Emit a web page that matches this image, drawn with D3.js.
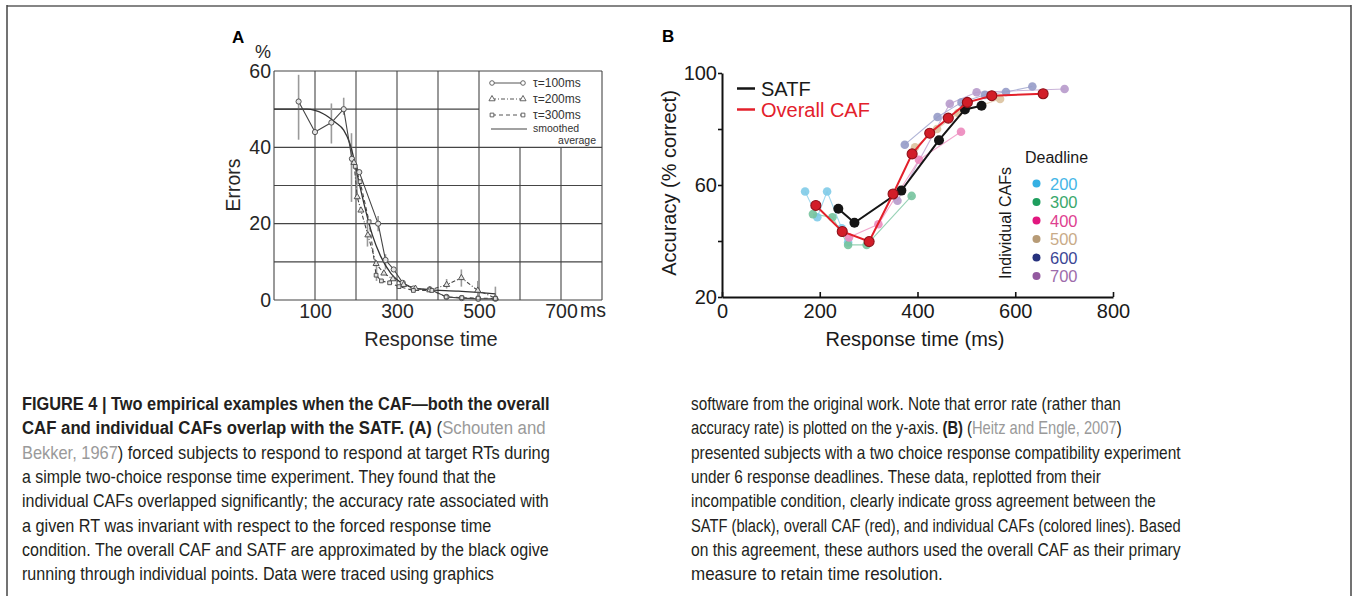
<!DOCTYPE html>
<html><head><meta charset="utf-8">
<script src="https://cdn.jsdelivr.net/npm/d3@7"></script>
<style>
body{margin:0;background:#fff;}
svg{display:block;font-family:"Liberation Sans",Arial,Helvetica,sans-serif;}
</style></head>
<body><svg id="c" width="1356" height="596"></svg>
<script>
// ---------- Panel A data (Schouten & Bekker, 1967) ----------
const t100X = [60,100,140,170,190,208,254,272,292,314,340,380,421,458,498,540];
const t100Y = [52,44,46.5,50,37,33.5,20,10.5,8,4.5,3,2.8,0.8,0.5,0.3,0.3];
const t200X = [195,203,212,229,249,268,290,316,345,380,421,457,497,540];
const t200Y = [36,27,23.5,17,9.5,7,5.5,4,3,2.6,4,5.8,2.5,0.5];
const t300X = [198,210,232,249,262,282,305,340,385,420,458,498,540];
const t300Y = [35,31,20.5,6.5,5,4.5,3.5,2.5,2.5,0.8,0.6,0.5,0.4];
const smoothX = [0,80,120,150,170,185,195,205,220,240,260,285,320,370,450,540];
const smoothY = [50,50,48.8,46.5,44.5,41,37,32,25,17,11.5,7,4,2.7,2.3,1.6];
const errX  = [60,140,170,189,202,228,250,254,272,421,457,497,540];
const errLo = [42,41,48.5,25.7,28,14,5,18,8,3,3.5,0,0];
const errHi = [59,51.5,53,43.7,35.4,21,10,22,12,5.5,8,5,3.5];
const xTicksA = [100,300,500,700];
const yTicksA = [0,20,40,60];
const gridXA = [0,100,200,300,400,500,600,700,800];
const gridYA = [0,10,20,30,40,50,60];
const legendA = ["\u03c4=100ms","\u03c4=200ms","\u03c4=300ms","smoothed","average"];

// ---------- Panel B data (Heitz & Engle, 2007) ----------
const satfX = [238,271,367,444,497,531];
const satfY = [51.5,46.5,58,76,87,88.3];
const cafX = [192,246,301,350,389,425,463,502,552,657];
const cafY = [52.7,43.4,39.8,56.8,71.1,78.5,83.9,89.5,91.9,92.6];
const d200X = [170,195,215,245,258]; const d200Y = [57.7,48.5,57.7,44.5,39.5];
const d300X = [186,226,258,296,388]; const d300Y = [49.6,48.5,38.6,38.6,56.1];
const d400X = [260,320,403,489];     const d400Y = [41.3,46,69,79];
const d500X = [395,440,483,569];     const d500Y = [73.5,80,85.7,90.7];
const d600X = [374,441,490,538,581,635]; const d600Y = [74.4,84.3,89.5,92.2,93.2,95.2];
const d700X = [359,466,521,701];     const d700Y = [54.4,89,93.1,94.3];
const deadlines = ["200","300","400","500","600","700"];
const xTicksB = [0,200,400,600,800];
const yTicksB = [20,40,60,80,100];

// ---------- Caption ----------
const captionLeft = [
 [["FIGURE 4 | Two empirical examples when the CAF\u2014both the overall","b"]],
 [["CAF and individual CAFs overlap with the SATF. (A)","b"],[" (","n"],["Schouten and","g"]],
 [["Bekker, 1967","g"],[") forced subjects to respond to respond at target RTs during","n"]],
 [["a simple two-choice response time experiment. They found that the","n"]],
 [["individual CAFs overlapped significantly; the accuracy rate associated with","n"]],
 [["a given RT was invariant with respect to the forced response time","n"]],
 [["condition. The overall CAF and SATF are approximated by the black ogive","n"]],
 [["running through individual points. Data were traced using graphics","n"]]
];
const captionRight = [
 [["software from the original work. Note that error rate (rather than","n"]],
 [["accuracy rate) is plotted on the y-axis. ","n"],["(B)","b"],[" (","n"],["Heitz and Engle, 2007","g"],[")","n"]],
 [["presented subjects with a two choice response compatibility experiment","n"]],
 [["under 6 response deadlines. These data, replotted from their","n"]],
 [["incompatible condition, clearly indicate gross agreement between the","n"]],
 [["SATF (black), overall CAF (red), and individual CAFs (colored lines). Based","n"]],
 [["on this agreement, these authors used the overall CAF as their primary","n"]],
 [["measure to retain time resolution.","n"]]
];

const svg = d3.select("#c");

// frame
svg.append("line").attr("x1",7).attr("x2",1351).attr("y1",6).attr("y2",6).attr("stroke","#858585").attr("stroke-width",2.2);
svg.append("line").attr("x1",7).attr("x2",7).attr("y1",5).attr("y2",596).attr("stroke","#444").attr("stroke-width",1.5);
svg.append("line").attr("x1",1351).attr("x2",1351).attr("y1",5).attr("y2",596).attr("stroke","#444").attr("stroke-width",1.5);

// ================= Panel A =================
const xA = d3.scaleLinear().domain([0,800]).range([274,602]);
const yA = d3.scaleLinear().domain([0,60]).range([300,71]);
const gA = svg.append("g");
const gridCol = "#454545";
gridXA.forEach(v=>{
  const top = (v===600||v===700) ? 40 : 60;
  gA.append("line").attr("x1",xA(v)).attr("x2",xA(v)).attr("y1",yA(0)).attr("y2",yA(top))
    .attr("stroke",gridCol).attr("stroke-width",1.1);
});
gridYA.forEach(v=>{
  const right = v===50 ? 500 : 800;
  gA.append("line").attr("x1",xA(0)).attr("x2",xA(right)).attr("y1",yA(v)).attr("y2",yA(v))
    .attr("stroke",gridCol).attr("stroke-width",1.1);
});

const yAxA = d3.axisLeft(yA).tickValues(yTicksA).tickSize(0).tickPadding(3);
gA.append("g").attr("transform",`translate(${xA(0)},0)`).call(yAxA)
  .call(g=>g.select(".domain").remove())
  .selectAll("text").attr("font-size",19.5).attr("fill","#262626").attr("font-family","Liberation Sans, Arial");
const xAxA = d3.axisBottom(xA).tickValues(xTicksA).tickSize(0).tickPadding(4);
gA.append("g").attr("transform",`translate(0,${yA(0)})`).call(xAxA)
  .call(g=>g.select(".domain").remove())
  .selectAll("text").attr("font-size",19.5).attr("fill","#262626").attr("font-family","Liberation Sans, Arial");
gA.append("text").attr("x",xA(700)+19).attr("y",317).attr("font-size",19.5).attr("fill","#262626").text("ms");
gA.append("text").attr("x",271).attr("y",58).attr("text-anchor","end").attr("font-size",18).attr("fill","#262626").text("%");
gA.append("text").attr("transform","translate(240,185) rotate(-90)").attr("text-anchor","middle")
  .attr("font-size",19.5).attr("fill","#262626").text("Errors");
gA.append("text").attr("x",431).attr("y",346).attr("text-anchor","middle").attr("font-size",20).attr("fill","#262626").text("Response time");
gA.append("text").attr("x",232).attr("y",43).attr("font-size",17).attr("font-weight","bold").attr("fill","#000").text("A");

// error bars
errX.forEach((x,i)=>{
  gA.append("line").attr("x1",xA(x)).attr("x2",xA(x)).attr("y1",yA(errLo[i])).attr("y2",yA(errHi[i]))
    .attr("stroke","#9a9a9a").attr("stroke-width",1.6);
});
// smoothed
const lineA = (X,Y)=>d3.line().x((d,i)=>xA(X[i])).y((d,i)=>yA(Y[i]))(X);
gA.append("path").attr("d",d3.line().curve(d3.curveMonotoneX).x((d,i)=>xA(smoothX[i])).y((d,i)=>yA(smoothY[i]))(smoothX))
  .attr("fill","none").attr("stroke","#333").attr("stroke-width",1.3);
gA.append("path").attr("d",lineA(t100X,t100Y)).attr("fill","none").attr("stroke","#454545").attr("stroke-width",1.1);
gA.append("path").attr("d",lineA(t200X,t200Y)).attr("fill","none").attr("stroke","#454545").attr("stroke-width",1.1).attr("stroke-dasharray","4,2,1,2");
gA.append("path").attr("d",lineA(t300X,t300Y)).attr("fill","none").attr("stroke","#454545").attr("stroke-width",1.1).attr("stroke-dasharray","4,3");
t100X.forEach((x,i)=>gA.append("circle").attr("cx",xA(x)).attr("cy",yA(t100Y[i])).attr("r",2.6).attr("fill","#e4e4e4").attr("stroke","#444").attr("stroke-width",0.9));
const tri = d3.symbol().type(d3.symbolTriangle).size(16);
const sq = d3.symbol().type(d3.symbolSquare).size(14);
t200X.forEach((x,i)=>gA.append("path").attr("d",tri()).attr("transform",`translate(${xA(x)},${yA(t200Y[i])})`).attr("fill","#e4e4e4").attr("stroke","#444").attr("stroke-width",0.9));
t300X.forEach((x,i)=>gA.append("path").attr("d",sq()).attr("transform",`translate(${xA(x)},${yA(t300Y[i])})`).attr("fill","#e4e4e4").attr("stroke","#444").attr("stroke-width",0.9));

// legend A
const lgA = gA.append("g").attr("font-size",12).attr("fill","#333");
const lyA = [83,99,115,129];
const lx0 = 492, lx1 = 523;
lgA.append("line").attr("x1",lx0).attr("x2",lx1).attr("y1",lyA[0]).attr("y2",lyA[0]).attr("stroke","#555");
[lx0,lx1].forEach(x=>lgA.append("circle").attr("cx",x).attr("cy",lyA[0]).attr("r",2.3).attr("fill","#fff").attr("stroke","#555").attr("stroke-width",0.9));
lgA.append("line").attr("x1",lx0).attr("x2",lx1).attr("y1",lyA[1]).attr("y2",lyA[1]).attr("stroke","#555").attr("stroke-dasharray","4,2,1,2");
[lx0,lx1].forEach(x=>lgA.append("path").attr("d",tri()).attr("transform",`translate(${x},${lyA[1]})`).attr("fill","#fff").attr("stroke","#555").attr("stroke-width",0.9));
lgA.append("line").attr("x1",lx0).attr("x2",lx1).attr("y1",lyA[2]).attr("y2",lyA[2]).attr("stroke","#555").attr("stroke-dasharray","4,3");
[lx0,lx1].forEach(x=>lgA.append("path").attr("d",sq()).attr("transform",`translate(${x},${lyA[2]})`).attr("fill","#fff").attr("stroke","#555").attr("stroke-width",0.9));
lgA.append("line").attr("x1",491).attr("x2",527).attr("y1",lyA[3]).attr("y2",lyA[3]).attr("stroke","#444").attr("stroke-width",1.1);
lgA.append("text").attr("x",533).attr("y",lyA[0]+4).text(legendA[0]);
lgA.append("text").attr("x",533).attr("y",lyA[1]+4).text(legendA[1]);
lgA.append("text").attr("x",533).attr("y",lyA[2]+4).text(legendA[2]);
lgA.append("text").attr("x",533).attr("y",132).attr("font-size",10.5).text(legendA[3]);
lgA.append("text").attr("x",596).attr("y",144).attr("font-size",10.5).attr("text-anchor","end").text(legendA[4]);

// ================= Panel B =================
const xB = d3.scaleLinear().domain([0,800]).range([722,1113]);
const yB = d3.scaleLinear().domain([20,100]).range([297,73]);
const gB = svg.append("g");
const xAxB = d3.axisBottom(xB).tickValues(xTicksB).tickSizeInner(-5).tickSizeOuter(0).tickPadding(7);
gB.append("g").attr("transform",`translate(0,${yB(20)})`).call(xAxB)
  .call(g=>g.select(".domain").attr("stroke","#111").attr("stroke-width",2))
  .call(g=>g.selectAll(".tick line").attr("stroke","#111").attr("stroke-width",1.6))
  .selectAll("text").attr("font-size",20).attr("fill","#1a1a1a").attr("font-family","Liberation Sans, Arial");
const yAxB = d3.axisLeft(yB).tickValues(yTicksB).tickSizeInner(4).tickSizeOuter(0).tickPadding(1)
  .tickFormat(d=> (d===40||d===80) ? "" : d);
gB.append("g").attr("transform",`translate(${xB(0)},0)`).call(yAxB)
  .call(g=>g.select(".domain").attr("stroke","#111").attr("stroke-width",2))
  .call(g=>g.selectAll(".tick line").attr("stroke","#111").attr("stroke-width",1.6))
  .selectAll("text").attr("font-size",20).attr("fill","#1a1a1a").attr("font-family","Liberation Sans, Arial");
gB.append("text").attr("x",915).attr("y",346).attr("text-anchor","middle").attr("font-size",20).attr("fill","#1a1a1a").text("Response time (ms)");
gB.append("text").attr("transform","translate(676,183) rotate(-90)").attr("text-anchor","middle").attr("font-size",20).attr("fill","#1a1a1a").text("Accuracy (% correct)");
gB.append("text").attr("x",662).attr("y",42).attr("font-size",17).attr("font-weight","bold").attr("fill","#000").text("B");

const indiv = [[d200X,d200Y],[d300X,d300Y],[d400X,d400Y],[d500X,d500Y],[d600X,d600Y],[d700X,d700Y]];
const paleCols = ["#80cbe8","#76c39d","#ec88bc","#dcc29f","#969bc8","#b79acb"];
const dotCols  = ["#35b0e3","#1e9e5e","#e2177f","#b79b76","#27327e","#93599f"];
const txtCols  = ["#45b6e7","#3aa86c","#de3f90","#c9ab88","#3b4694","#9d6cab"];
const lineB = (X,Y)=>d3.line().x((d,i)=>xB(X[i])).y((d,i)=>yB(Y[i]))(X);
indiv.forEach(([X,Y],k)=>{
  gB.append("path").attr("d",lineB(X,Y)).attr("fill","none").attr("stroke",paleCols[k]).attr("stroke-width",1.1).attr("opacity",0.75);
});
indiv.forEach(([X,Y],k)=>{
  X.forEach((x,i)=>gB.append("circle").attr("cx",xB(x)).attr("cy",yB(Y[i])).attr("r",4.3).attr("fill",paleCols[k]).attr("opacity",0.9));
});
gB.append("path").attr("d",lineB(satfX,satfY)).attr("fill","none").attr("stroke","#151515").attr("stroke-width",2);
satfX.forEach((x,i)=>gB.append("circle").attr("cx",xB(x)).attr("cy",yB(satfY[i])).attr("r",5).attr("fill","#151515"));
gB.append("path").attr("d",lineB(cafX,cafY)).attr("fill","none").attr("stroke","#e3202b").attr("stroke-width",2);
cafX.forEach((x,i)=>gB.append("circle").attr("cx",xB(x)).attr("cy",yB(cafY[i])).attr("r",5).attr("fill","#d21d28").attr("stroke","#8e1018").attr("stroke-width",1.1));

// legend B
gB.append("line").attr("x1",737).attr("x2",755).attr("y1",88.5).attr("y2",88.5).attr("stroke","#151515").attr("stroke-width",2.5);
gB.append("text").attr("x",761).attr("y",95.5).attr("font-size",20).attr("fill","#1a1a1a").text("SATF");
gB.append("line").attr("x1",737).attr("x2",755).attr("y1",109.5).attr("y2",109.5).attr("stroke","#e3202b").attr("stroke-width",2.5);
gB.append("text").attr("x",761).attr("y",116.5).attr("font-size",20).attr("fill","#e3202b").text("Overall CAF");
gB.append("text").attr("x",1025).attr("y",163).attr("font-size",16).attr("fill","#1a1a1a").text("Deadline");
gB.append("text").attr("transform","translate(1011,223) rotate(-90)").attr("text-anchor","middle").attr("font-size",16).attr("fill","#1a1a1a").text("Individual CAFs");
deadlines.forEach((d,k)=>{
  const y = 183.5 + k*18.5;
  gB.append("circle").attr("cx",1036.5).attr("cy",y).attr("r",4).attr("fill",dotCols[k]);
  gB.append("text").attr("x",1050).attr("y",y+6).attr("font-size",16.5).attr("fill",txtCols[k]).text(d);
});

// ================= Caption =================
function capLine(x, y, segs, width){
  const t = svg.append("text").attr("font-size",18).style("white-space","pre")
    .attr("font-family","'Liberation Sans Narrow','Arial Narrow','Liberation Sans',Arial,sans-serif");
  segs.forEach(s=>{
    t.append("tspan").text(s[0])
      .attr("font-weight", s[1]==="b" ? "bold" : null)
      .attr("fill", s[1]==="g" ? "#9a9a9a" : "#231f20");
  });
  const w = t.node().getComputedTextLength();
  t.attr("transform",`translate(${x},${y}) scale(${width/w},1)`);
}
const capLeftW  = [528,524,528,474,527,470,527,472];
const capRightW = [430,431,490,410,465,490,490,252];
const capBase = 410, capStep = 24.3;
captionLeft.forEach((segs,i)=>capLine(22, capBase+i*capStep, segs, capLeftW[i]));
captionRight.forEach((segs,i)=>capLine(691, capBase+i*capStep, segs, capRightW[i]));
</script>
</body></html>
